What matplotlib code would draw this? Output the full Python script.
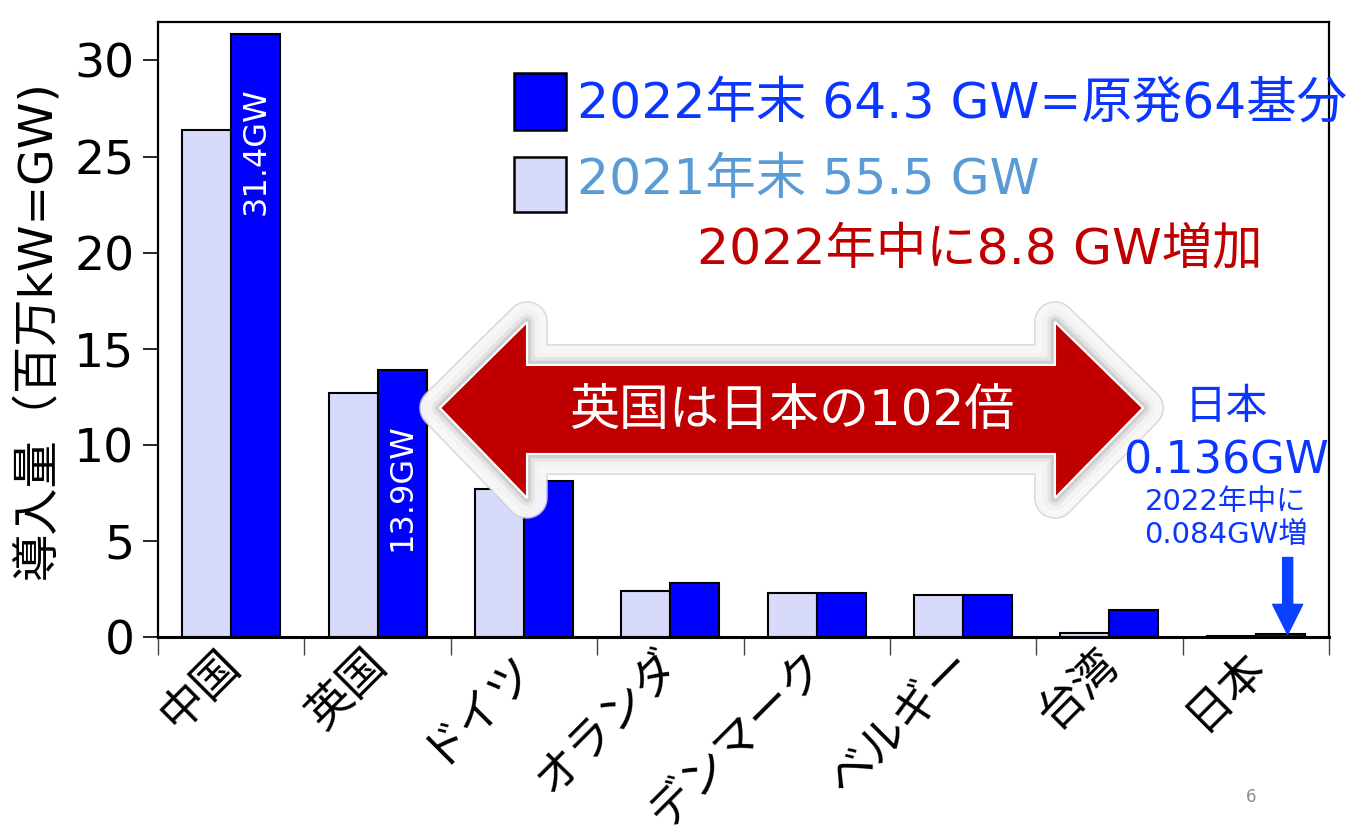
import numpy as np
import matplotlib
matplotlib.use("Agg")
import matplotlib.pyplot as plt
from matplotlib.patches import Polygon, Rectangle
import matplotlib.patheffects as pe
from matplotlib.transforms import ScaledTranslation

# Wide Latin digits from DejaVu, Japanese glyphs from Noto Sans CJK
plt.rcParams["font.family"] = ["DejaVu Sans", "Noto Sans CJK JP"]

# Offshore wind capacity (GW) by country
countries = ["中国", "英国", "ドイツ", "オランダ", "デンマーク", "ベルギー", "台湾", "日本"]
cap_2021 = [26.4, 12.7, 7.7, 2.4, 2.3, 2.2, 0.2, 0.052]
cap_2022 = [31.4, 13.9, 8.1, 2.8, 2.3, 2.2, 1.4, 0.136]
labelled_bars = [0, 1]          # bars carrying a value label inside
world_2021 = 55.5
world_2022 = 64.3
reactor_equiv = 64
uk_jp_ratio = 102
jp_increase = 0.084

LIGHT = "#D8DAFC"
BLUE = "#0000FF"
TXT_BLUE = "#0A36FF"
TXT_LIGHT = "#5B9BD5"
DARK_RED = "#C00000"

W, H = 1369, 831
fig = plt.figure(figsize=(W / 100, H / 100), dpi=100)
ax_l, ax_r, ax_b, ax_t = 158, 1329, 637, 22
ax = fig.add_axes([ax_l / W, (H - ax_b) / H, (ax_r - ax_l) / W, (ax_b - ax_t) / H])

n = len(countries)
x = np.arange(n) + 0.5
bw = 0.335
ax.bar(x - bw / 2, cap_2021, width=bw, color=LIGHT, edgecolor="black", linewidth=1.5, zorder=2)
ax.bar(x + bw / 2, cap_2022, width=bw, color=BLUE, edgecolor="black", linewidth=1.5, zorder=2)

for i in labelled_bars:
    ax.text(x[i] + bw / 2, cap_2022[i] - 2.8, f"{cap_2022[i]:.1f}GW", rotation=90,
            ha="center", va="top", color="white", fontsize=23, zorder=3)

ax.set_xlim(0, n)
ax.set_ylim(0, 32)
ax.set_yticks(range(0, 31, 5))
ax.tick_params(axis="y", length=11, width=1.2, pad=6, labelsize=34)
ax.set_xticks(x)
ax.set_xticklabels(countries, rotation=45, ha="right", va="center",
                   rotation_mode="anchor", fontsize=33)
ax.tick_params(axis="x", which="major", length=0, pad=15)
ax.set_xticks(np.arange(n + 1), minor=True)
ax.tick_params(axis="x", which="minor", length=13, width=1.0, color="#444444")
for lbl in ax.get_xticklabels():
    lbl.set_transform(lbl.get_transform() + ScaledTranslation(2 / 100, 0, fig.dpi_scale_trans))

for side in ["left", "top", "right"]:
    ax.spines[side].set_linewidth(1.6)
ax.spines["bottom"].set_linewidth(2.2)

ax.set_ylabel("導入量（百万kW=GW)", fontsize=34, labelpad=10)

# Legend drawn by hand in axes fraction
ax.add_patch(Rectangle((0.304, 0.8244), 0.0444, 0.0927, transform=ax.transAxes,
                       facecolor=BLUE, edgecolor="black", linewidth=1.8, zorder=4))
ax.add_patch(Rectangle((0.304, 0.691), 0.0444, 0.0894, transform=ax.transAxes,
                       facecolor=LIGHT, edgecolor="black", linewidth=1.8, zorder=4))
ax.text(0.3578, 0.8683, f"2022年末 {world_2022} GW=原発{reactor_equiv}基分", transform=ax.transAxes,
        ha="left", va="center", fontsize=36.3, color=TXT_BLUE, zorder=4)
ax.text(0.3578, 0.7431, f"2021年末 {world_2021} GW", transform=ax.transAxes,
        ha="left", va="center", fontsize=36.3, color=TXT_LIGHT, zorder=4)
ax.text(0.4603, 0.6293, f"2022年中に{world_2022 - world_2021:.1f} GW増加", transform=ax.transAxes,
        ha="left", va="center", fontsize=36.3, color=DARK_RED, zorder=4)

# Double-headed comparison arrow with a soft white halo
tip_l, base_l, base_r, tip_r = 0.2408, 0.3151, 0.7660, 0.8412
y_mid, head_hi, head_lo, shaft_hi, shaft_lo = 0.3724, 0.5122, 0.2260, 0.4423, 0.2976
arrow_pts = [(tip_l, y_mid), (base_l, head_hi), (base_l, shaft_hi), (base_r, shaft_hi),
             (base_r, head_hi), (tip_r, y_mid), (base_r, head_lo), (base_r, shaft_lo),
             (base_l, shaft_lo), (base_l, head_lo)]
halo = Polygon(arrow_pts, closed=True, transform=ax.transAxes, facecolor="none",
               edgecolor="none", zorder=5, joinstyle="round")
halo.set_path_effects([
    pe.Stroke(linewidth=30, foreground="#cfcfcf", alpha=0.85, joinstyle="round"),
    pe.Stroke(linewidth=28, foreground="#fdfdfd", alpha=0.85, joinstyle="round"),
    pe.Stroke(linewidth=18, foreground="#f2f2f2", alpha=0.9, joinstyle="round"),
    pe.Stroke(linewidth=11, foreground="#e2e2e2", alpha=0.9, joinstyle="round"),
    pe.Stroke(linewidth=6, foreground="#cdcdcd", alpha=0.9, joinstyle="round"),
])
ax.add_patch(halo)
ax.add_patch(Polygon(arrow_pts, closed=True, transform=ax.transAxes, facecolor=DARK_RED,
                     edgecolor="white", linewidth=1.5, zorder=6))
ax.text((tip_l + tip_r) / 2, 0.367, f"英国は日本の{uk_jp_ratio}倍", transform=ax.transAxes,
        ha="center", va="center", fontsize=36, color="white", zorder=7)

# Japan callout
ax.text(0.912, 0.374, countries[-1], transform=ax.transAxes, ha="center", va="center",
        fontsize=30, color=TXT_BLUE, zorder=8)
ax.text(0.912, 0.2862, f"{cap_2022[-1]:.3f}GW", transform=ax.transAxes, ha="center", va="center",
        fontsize=32, color=TXT_BLUE, zorder=8)
ax.text(0.912, 0.2195, "2022年中に", transform=ax.transAxes, ha="center", va="center",
        fontsize=21, color=TXT_BLUE, zorder=8)
ax.text(0.912, 0.1659, f"{jp_increase:.3f}GW増", transform=ax.transAxes, ha="center", va="center",
        fontsize=21, color=TXT_BLUE, zorder=8)
ax.annotate("", xy=(x[-1] + bw / 2 + 0.05, cap_2022[-1]),
            xytext=(x[-1] + bw / 2 + 0.05, cap_2022[-1] + 4.0),
            arrowprops=dict(arrowstyle="simple,head_length=1.5,head_width=1.5,tail_width=0.5",
                            mutation_scale=14.4, color="#0A40FF", shrinkA=0, shrinkB=0),
            zorder=8)

fig.text(1251 / W, 1 - 797 / H, "6", ha="center", va="center", fontsize=12, color="#8c8c8c")

fig.savefig("out.png", dpi=100)
